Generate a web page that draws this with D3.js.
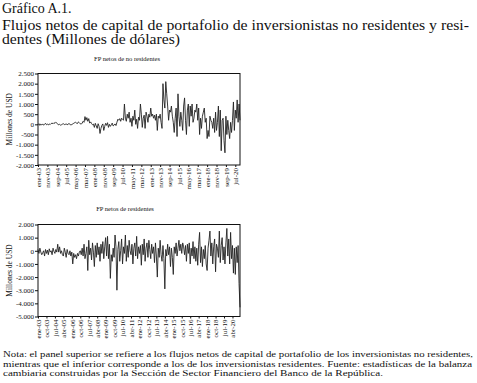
<!DOCTYPE html>
<html><head><meta charset="utf-8">
<script src="https://cdn.jsdelivr.net/npm/d3@7"></script>
<style>
body{margin:0;background:#fff;}
svg{display:block;font-family:"Liberation Serif","DejaVu Serif",serif;}
</style></head>
<body>
<svg id="c" width="477" height="383"></svg>
<script>
const monthNames = ["ene","feb","mar","abr","may","jun","jul","ago","sep","oct","nov","dic"];
const startYear = 2003;
// FP netos de no residentes (millones USD), monthly ene-03 .. dic-20
const noResidentes = [
  -20, 30, -50, 10, -30, 20, -40, 0, 50, -20, 10, -30,
  20, -10, 40, 60, 30, 80, 50, 100, 60, 20, -30, 0,
  -40, -20, 10, 30, -10, 0, 20, -20, 10, 40, 0, -30,
  -10, 20, 50, 80, 100, 60, 40, 120, 80, 30, 10, 60,
  150, 100, 380, 200, 330, 150, 280, 60, 120, 40, -20, 10,
  -150, 50, -80, -200, 30, -100, -450, -200, -50, 20, -300, -100,
  50, -50, 80, -150, 0, -100, -20, 60, -80, -40, 20, -60,
  100, 250, 200, 280, 150, 300, 250, 200, 1000, 300, 150, 500,
  300, 600, 100, 300, -100, 400, 200, 700, 0, 250, -200, 350,
  200, 1000, 500, -150, 300, 450, -200, 600, 400, 100, 500, 350,
  800, 400, 500, 300, 450, 200, 500, -300, 400, 300, 500, 100,
  -200, 2000, 1200, 800, 2100, 1500, 900, 200, 700, 600, 900, 400,
  100, -400, 300, 800, -600, 1500, 400, -100, 600, 200, -300, 900,
  1300, 200, -500, 700, 1000, -100, 900, 400, 1000, 100, 300, 700,
  600, 1000, 200, 800, -500, 300, -200, 400, 600, 800, 100, 300,
  -700, -300, -600, 400, 200, 100, -200, 300, -400, 600, -300, 100,
  900, -600, 700, -1300, 200, 300, -800, -1400, 400, -500, 200, -300,
  -700, 100, -400, 200, 1100, -300, 700, 300, 1200, 100, 1000, 200
];
// FP netos de residentes (millones USD)
const residentes = [
  100, -200, 200, -100, -300, -150, 0, -400, 100, -200, 50, -300,
  150, -100, 0, -300, 200, -50, -200, 100, -100, 500, -100, 300,
  -200, 0, -300, -400, 200, -100, -500, 100, -200, -300, 0, -400,
  -100, -1000, -200, -500, -300, -600, -200, -400, -100, 0, -300, 200,
  -400, 500, -600, -200, 300, -1500, 800, -300, 200, -700, 600, -100,
  -1200, 400, -500, 600, -300, 300, -800, 500, -200, 700, -600, 300,
  1000, -400, 1100, -600, 500, -2100, -300, -800, 200, -500, 1200, 300,
  -3000, 100, 700, -800, 0, 900, -1000, 300, -200, 1200, -800, 400,
  -500, 800, 0, -300, 500, -1000, 200, 600, -400, 1100, -600, 300,
  -200, 400, -1100, 500, -300, 900, -800, 200, 600, -500, 800, 100,
  -600, 500, -200, 300, -900, 600, -400, -2000, 200, -500, 800, -300,
  -800, 400, -600, -2900, 100, -400, 500, -300, 300, -1200, 200, -500,
  -1800, 300, -200, 600, -400, 200, 800, 0, 500, -200, 600, 300,
  -300, 400, -800, 500, -200, 600, -1000, 200, -400, 700, -600, 300,
  -800, 200, -1100, 500, 1400, -900, 300, -1200, 100, -600, 400, -1000,
  -1500, 200, 800, 1500, -400, 600, -1000, 300, 900, -1600, 500, 200,
  -500, 1500, -900, 400, 1000, -700, 300, -1000, 600, 1700, -400, 900,
  -1000, 1400, -600, 400, -1700, 200, -1800, 300, -900, 400, -2500, -4300
];
const topYTicks = [2500, 2000, 1500, 1000, 500, 0, -500, -1000, -1500, -2000];
const botYTicks = [2000, 1000, 0, -1000, -2000, -3000, -4000, -5000];
const topXStep = 10; // months between labels
const botXStep = 9;
const titleLines = ["Gráfico A.1.",
  "Flujos netos de capital de portafolio de inversionistas no residentes y resi-",
  "dentes (Millones de dólares)"];
const noteLines = [
  "Nota: el panel superior se refiere a los flujos netos de capital de portafolio de los inversionistas no residentes,",
  "mientras que el inferior corresponde a los de los inversionistas residentes. Fuente: estadísticas de la balanza",
  "cambiaria construidas por la Sección de Sector Financiero del Banco de la República."];

const svg = d3.select("#c");
const fmt = v => { const s = Math.abs(v).toString().replace(/\B(?=(\d{3})+(?!\d))/g, "."); return (v < 0 ? "-" : "") + s; };
const lbl = i => monthNames[i % 12] + "-" + String((startYear + Math.floor(i / 12)) % 100).padStart(2, "0");

// Title
const tl = svg.append("g").attr("fill", "#111").attr("font-size", 14);
tl.append("text").attr("x", 2).attr("y", 13).text(titleLines[0]);
tl.append("text").attr("x", 2).attr("y", 29.5).attr("textLength", 467).attr("lengthAdjust", "spacingAndGlyphs").text(titleLines[1]);
tl.append("text").attr("x", 2).attr("y", 44).attr("textLength", 178).attr("lengthAdjust", "spacingAndGlyphs").text(titleLines[2]);

function panel(data, cfg) {
  const x = d3.scaleLinear().domain([0, data.length - 1]).range([38, 240]);
  const y = d3.scaleLinear().domain(cfg.domain).range([cfg.bottom, cfg.top]);
  const g = svg.append("g");
  g.append("text").attr("x", cfg.titleX).attr("y", cfg.titleY).attr("text-anchor", "middle")
    .attr("font-size", 6.5).attr("fill", "#111").text(cfg.title);
  g.append("text").attr("transform", `translate(12,${(cfg.top + cfg.bottom) / 2}) rotate(-90)`)
    .attr("text-anchor", "middle").attr("font-size", 7.5).attr("fill", "#111").text("Millones de USD");
  const line = d3.line().x((d, i) => x(i)).y(d => y(d));
  g.append("path").datum(data).attr("d", line).attr("fill", "none").attr("stroke", "#222").attr("stroke-width", 0.9).attr("stroke-linejoin", "round");
  g.append("rect").attr("x", 38).attr("y", cfg.top).attr("width", 202).attr("height", cfg.bottom - cfg.top)
    .attr("fill", "none").attr("stroke", "#111").attr("stroke-width", 1);
  const ya = d3.axisLeft(y).tickValues(cfg.yTicks).tickFormat(fmt).tickSize(3).tickPadding(1);
  const yg = g.append("g").attr("transform", "translate(38,0)").call(ya);
  yg.select(".domain").remove();
  yg.selectAll("text").attr("font-size", 7).attr("font-family", "Liberation Serif").attr("fill", "#111");
  yg.selectAll("line").attr("stroke", "#111");
  const xt = d3.range(0, data.length, cfg.xStep);
  const xa = d3.axisBottom(x).tickValues(xt).tickFormat(lbl).tickSize(2).tickPadding(1);
  const xg = g.append("g").attr("transform", `translate(0,${cfg.bottom})`).call(xa);
  xg.select(".domain").remove();
  xg.selectAll("line").attr("stroke", "#111");
  xg.selectAll("text").attr("font-size", 7).attr("font-family", "Liberation Serif").attr("fill", "#111")
    .attr("text-anchor", "end").attr("transform", "rotate(-90)").attr("x", -3).attr("y", 0).attr("dy", "0.33em");
}
panel(noResidentes, {domain: [-2000, 2500], top: 73.5, bottom: 165, yTicks: topYTicks, xStep: topXStep,
  title: "FP netos de no residentes", titleX: 127, titleY: 61});
panel(residentes, {domain: [-5000, 2000], top: 224.5, bottom: 316.5, yTicks: botYTicks, xStep: botXStep,
  title: "FP netos de residentes", titleX: 125, titleY: 211});

const nt = svg.append("g").attr("fill", "#111").attr("font-size", 8.6).attr("font-family", "Liberation Serif");
nt.append("text").attr("x", 3).attr("y", 357).attr("textLength", 470).attr("lengthAdjust", "spacingAndGlyphs").text(noteLines[0]);
nt.append("text").attr("x", 3).attr("y", 366.5).attr("textLength", 469).attr("lengthAdjust", "spacingAndGlyphs").text(noteLines[1]);
nt.append("text").attr("x", 3).attr("y", 376).attr("textLength", 380).attr("lengthAdjust", "spacingAndGlyphs").text(noteLines[2]);
</script>
</body></html>
